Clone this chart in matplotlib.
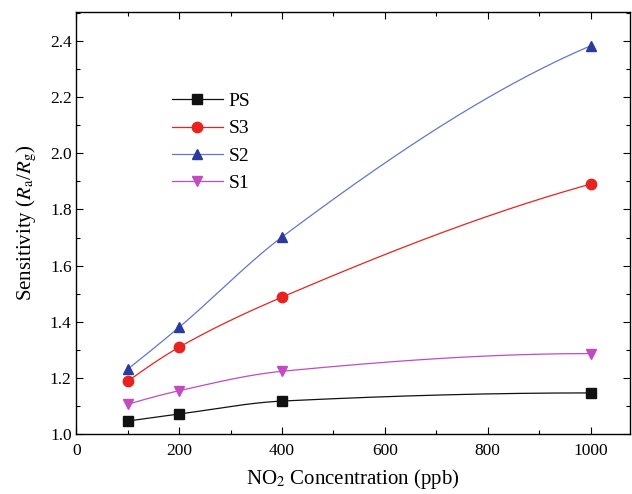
import numpy as np
import matplotlib
matplotlib.use("Agg")
import matplotlib.pyplot as plt
from matplotlib.ticker import MultipleLocator

# --- data ---
conc = [100, 200, 400, 1000]
ps = [1.047, 1.072, 1.118, 1.147]
s3 = [1.189, 1.310, 1.488, 1.890]
s2 = [1.232, 1.381, 1.702, 2.382]
s1 = [1.107, 1.155, 1.224, 1.287]

series = [("PS", ps, "#111111", "#111111", "s"),
          ("S3", s3, "#e8231f", "#e8231f", "o"),
          ("S2", s2, "#6277c8", "#2b3a9e", "^"),
          ("S1", s1, "#c04cc0", "#c04cc0", "v")]


def smooth_line(x, y, n=200):
    # monotone cubic (pchip) connector, like the smoothed line in the original
    x = np.asarray(x, float); y = np.asarray(y, float)
    h = np.diff(x); d = np.diff(y) / h
    k = len(x); m = np.zeros(k)
    for i in range(1, k - 1):
        if d[i - 1] * d[i] > 0:
            w1 = 2 * h[i] + h[i - 1]; w2 = h[i] + 2 * h[i - 1]
            m[i] = (w1 + w2) / (w1 / d[i - 1] + w2 / d[i])
    m[0] = ((2 * h[0] + h[1]) * d[0] - h[0] * d[1]) / (h[0] + h[1])
    if np.sign(m[0]) != np.sign(d[0]):
        m[0] = 0
    m[-1] = ((2 * h[-1] + h[-2]) * d[-1] - h[-1] * d[-2]) / (h[-1] + h[-2])
    if np.sign(m[-1]) != np.sign(d[-1]):
        m[-1] = 0
    xs = np.linspace(x[0], x[-1], n)
    idx = np.clip(np.searchsorted(x, xs) - 1, 0, k - 2)
    hh = h[idx]; t = (xs - x[idx]) / hh
    h00 = 2 * t**3 - 3 * t**2 + 1; h10 = t**3 - 2 * t**2 + t
    h01 = -2 * t**3 + 3 * t**2; h11 = t**3 - t**2
    ys = h00 * y[idx] + h10 * hh * m[idx] + h01 * y[idx + 1] + h11 * hh * m[idx + 1]
    return xs, ys


plt.rcParams['font.family'] = ['Liberation Serif', 'DejaVu Serif']
plt.rcParams['mathtext.fontset'] = 'stix'

fig = plt.figure(figsize=(6.32, 4.94), dpi=100)
ax = fig.add_axes([0.121, 0.121, 0.876, 0.855])

for name, vals, lc, mc, mk in series:
    xs, ys = smooth_line(conc, vals)
    ax.plot(xs, ys, color=lc, lw=0.9)
    ax.plot(conc, vals, ls='none', marker=mk, color=mc, ms=7.5)
    ax.plot([], [], color=lc, lw=0.9, marker=mk, mfc=mc, mec=mc, ms=7.5, label=name)

ax.set_xlim(0, 1077)
ax.set_ylim(1.0, 2.503)
ax.xaxis.set_major_locator(MultipleLocator(200))
ax.xaxis.set_minor_locator(MultipleLocator(100))
ax.yaxis.set_major_locator(MultipleLocator(0.2))
ax.yaxis.set_minor_locator(MultipleLocator(0.1))
ax.yaxis.set_major_formatter(matplotlib.ticker.FormatStrFormatter('%.1f'))
ax.tick_params(which='both', direction='in', top=True, right=True, labelsize=12.5, width=0.8)
ax.tick_params(which='major', length=5)
ax.tick_params(which='minor', length=3)
ax.tick_params(axis='x', pad=6)
for sp in ax.spines.values():
    sp.set_linewidth(1.0)

ax.set_xlabel('NO$_2$ Concentration (ppb)', fontsize=15, labelpad=6)
ax.set_ylabel('Sensitivity ($R_{\\mathrm{a}}$/$R_{\\mathrm{g}}$)', fontsize=15, labelpad=8)

ax.legend(loc='upper left', bbox_to_anchor=(0.155, 0.832), frameon=False, fontsize=14,
          handlelength=2.6, handletextpad=0.3, labelspacing=0.5, borderpad=0)

fig.savefig('out.png', dpi=100)
